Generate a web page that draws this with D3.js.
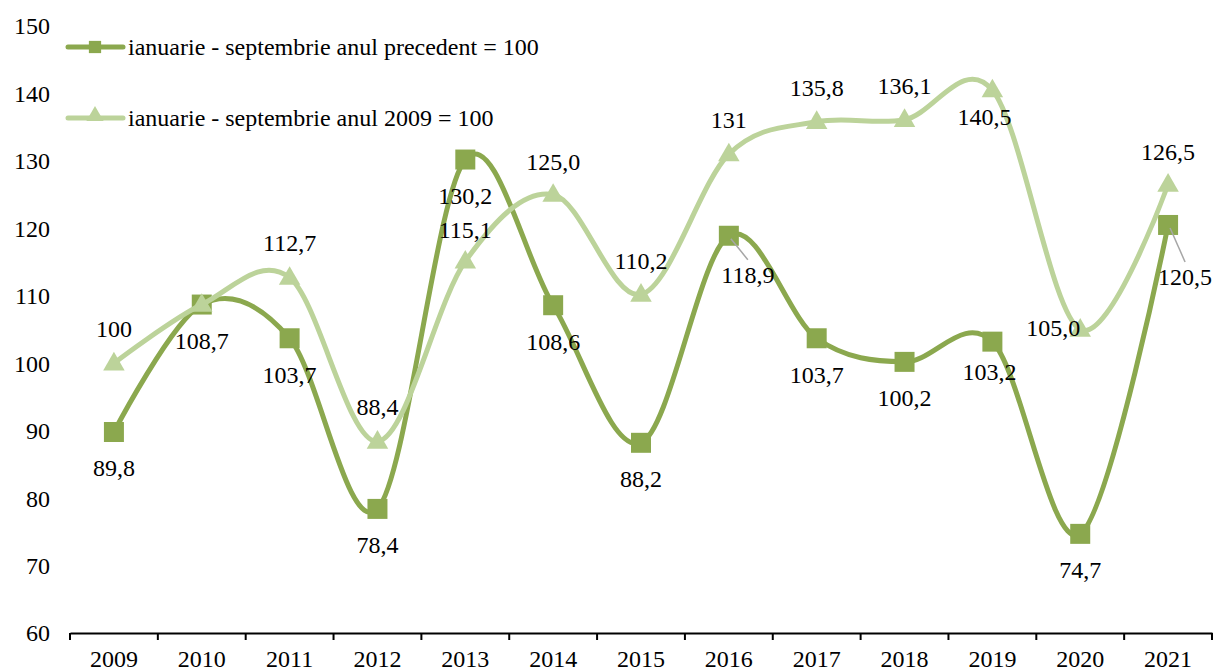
<!DOCTYPE html>
<html><head><meta charset="utf-8">
<script src="https://cdn.jsdelivr.net/npm/d3@7"></script>
<style>body{margin:0;background:#fff}svg{display:block}</style>
</head><body><svg id="c" width="1213" height="671"></svg>
<script>
const years = ["2009","2010","2011","2012","2013","2014","2015","2016","2017","2018","2019","2020","2021"];
const seriesPrev = [89.8,108.7,103.7,78.4,130.2,108.6,88.2,118.9,103.7,100.2,103.2,74.7,120.5];
const series2009 = [100,108.7,112.7,88.4,115.1,125.0,110.2,131,135.8,136.1,140.5,105.0,126.5];
const labelsPrev = ["89,8","108,7","103,7","78,4","130,2","108,6","88,2","118,9","103,7","100,2","103,2","74,7","120,5"];
const labels2009 = ["100",null,"112,7","88,4","115,1","125,0","110,2","131","135,8","136,1","140,5","105,0","126,5"];
const yTicks = [60,70,80,90,100,110,120,130,140,150];
const legendNames = ["ianuarie - septembrie anul precedent = 100","ianuarie - septembrie anul 2009 = 100"];

// label placement (offsets from point, px)
const offPrev = [[0,36],[0,36],[0,36],[0,36],[0,36],[0,36],[0,36],[19,39],[0,36],[0,36],[-3,30],[0,36],[17,52]];
const off2009 = [[0,-35],[0,0],[0,-35],[0,-35],[0,-32],[0,-33],[0,-34],[0,-35],[0,-34],[0,-34],[-8,27],[-27,-2],[0,-33]];
const leaderPrev = [false,false,false,false,false,false,false,true,false,false,false,false,true];

const FS = 24;
const svg = d3.select("#c");
const colDark = "#8ba84e", colLight = "#bcd39a";
const x = d3.scaleBand().domain(years).range([70,1212]);
const y = d3.scaleLinear().domain([60,150]).range([633,26]);
const cx = d => x(d) + x.bandwidth()/2;

function txt(sel){ return sel.attr("font-family", null).style("font-family", '"Liberation Serif"').style("font-size", FS+"px").attr("fill","#000"); }

// y tick labels
txt(svg.append("g").selectAll("text").data(yTicks).join("text")
  .attr("x", 50).attr("y", d => y(d)).attr("dy","0.35em").attr("text-anchor","end")
  .text(d => d));

// x axis
const xa = svg.append("g").attr("transform","translate(0,633)")
  .call(d3.axisBottom(x).tickSize(0).tickPadding(17));
xa.attr("font-family", null).attr("font-size", null);
xa.select(".domain").attr("stroke","#000").attr("stroke-width",2);
txt(xa.selectAll("text"));
const bounds = years.map(d => x(d)).concat([x(years[years.length-1]) + x.bandwidth()]);
svg.append("g").selectAll("line").data(bounds).join("line")
  .attr("x1", d=>d).attr("x2", d=>d).attr("y1",633).attr("y2",640)
  .attr("stroke","#000").attr("stroke-width",2);

const line = d3.line().x((d,i)=>cx(years[i])).y(d=>y(d)).curve(d3.curveCardinal.tension(0));

function drawSeries(vals, color, marker) {
  svg.append("path").attr("d", line(vals)).attr("fill","none")
    .attr("stroke", color).attr("stroke-width",5).attr("stroke-linejoin","round");
  const sym = marker === "square" ? d3.symbol(d3.symbolSquare, 400) : d3.symbol(d3.symbolTriangle, 200);
  svg.append("g").selectAll("path").data(vals).join("path")
    .attr("d", sym).attr("fill", color)
    .attr("transform", (d,i) => `translate(${cx(years[i])},${y(d) + (marker==="square"?0:1)})`);
}
drawSeries(seriesPrev, colDark, "square");
drawSeries(series2009, colLight, "triangle");

// leader lines
svg.append("g").selectAll("line").data(seriesPrev.map((v,i)=>({v,i})).filter(d=>leaderPrev[d.i])).join("line")
  .attr("x1", d=>cx(years[d.i])+2).attr("y1", d=>y(d.v)+3)
  .attr("x2", d=>cx(years[d.i])+offPrev[d.i][0]).attr("y2", d=>y(d.v)+offPrev[d.i][1]-15)
  .attr("stroke","#a6a6a6").attr("stroke-width",1.5);

function drawLabels(vals, labels, offs) {
  txt(svg.append("g").selectAll("text").data(vals.map((v,i)=>({v,i})).filter(d=>labels[d.i]!==null)).join("text")
    .attr("x", d => cx(years[d.i]) + offs[d.i][0])
    .attr("y", d => y(d.v) + offs[d.i][1])
    .attr("dy","0.35em").attr("text-anchor","middle")
    .text(d => labels[d.i]));
}
drawLabels(seriesPrev, labelsPrev, offPrev);
drawLabels(series2009, labels2009, off2009);

// legend
const lg = svg.append("g");
[[colDark,"square",47],[colLight,"triangle",118]].forEach(([c,m,yy],k)=>{
  lg.append("line").attr("x1",68).attr("x2",123).attr("y1",yy).attr("y2",yy)
    .attr("stroke",c).attr("stroke-width",5).attr("stroke-linecap","round");
  const sym = m==="square" ? d3.symbol(d3.symbolSquare, 150) : d3.symbol(d3.symbolTriangle, 130);
  lg.append("path").attr("d",sym).attr("fill",c).attr("transform",`translate(95,${yy-(m==="square"?0:2)})`);
  txt(lg.append("text").attr("x",128).attr("y",yy).attr("dy","0.35em").text(legendNames[k]));
});
</script></body></html>
